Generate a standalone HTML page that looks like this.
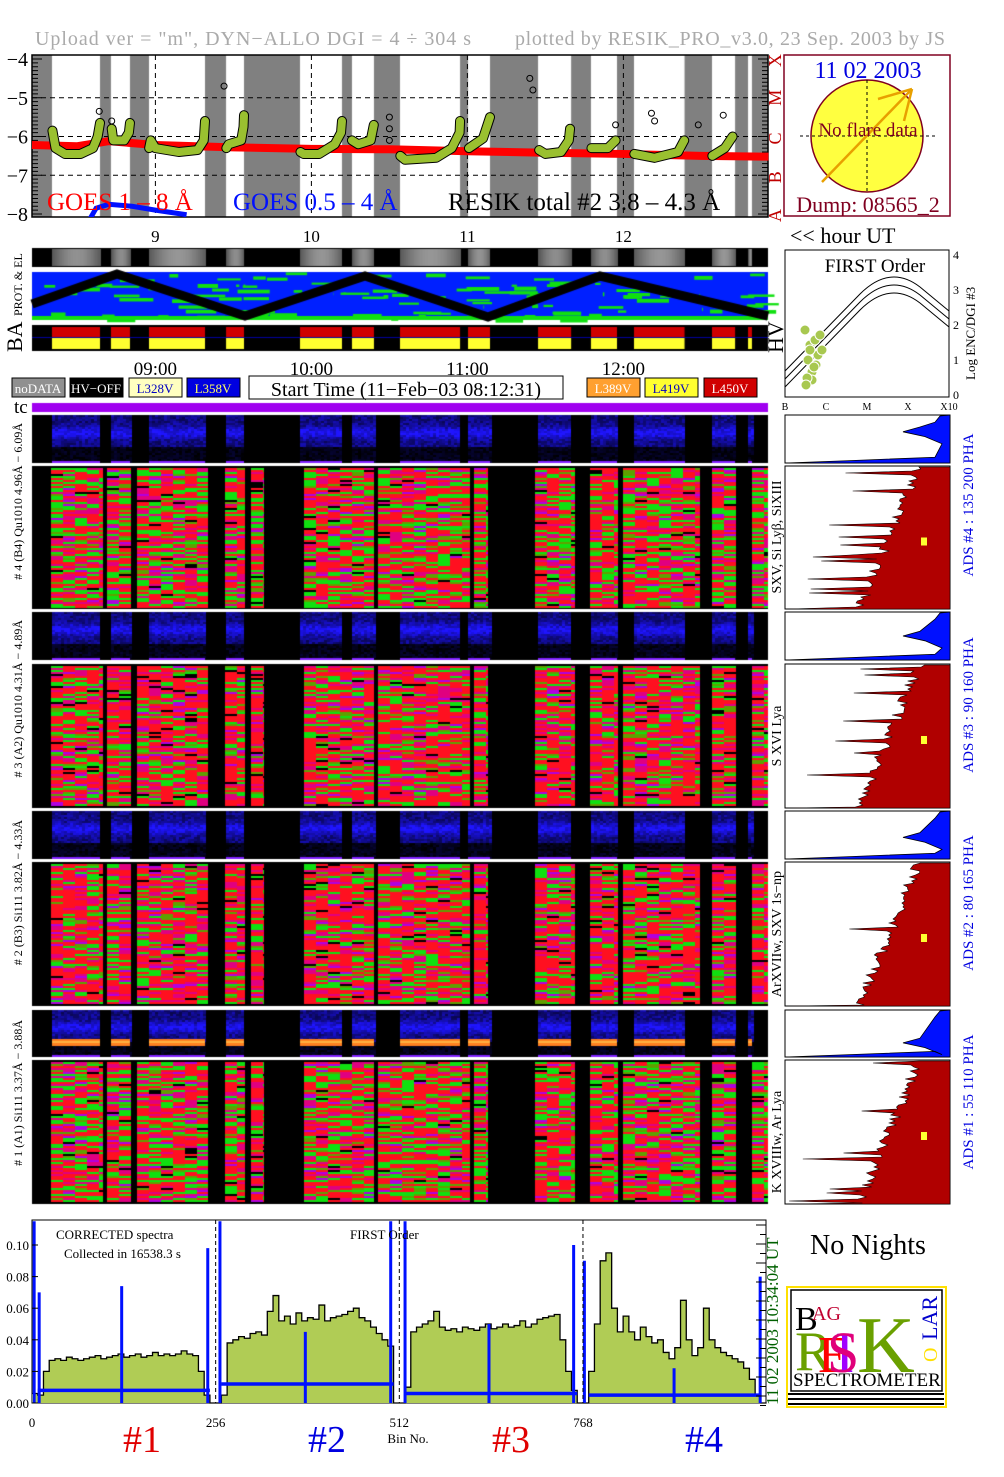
<!DOCTYPE html>
<html><head><meta charset="utf-8"><style>
html,body{margin:0;padding:0;background:#fff;}
#wrap{position:relative;width:1004px;height:1477px;overflow:hidden;}
canvas,svg{position:absolute;left:0;top:0;}
text{font-family:"Liberation Serif",serif;}
</style></head><body>
<div id="wrap">
<canvas id="cv" width="1004" height="1477"></canvas>
<svg id="sv" width="1004" height="1477" xmlns="http://www.w3.org/2000/svg">
<text x="35" y="45" font-size="20" fill="#aaa" textLength="436" lengthAdjust="spacing">Upload ver = "m", DYN−ALLO DGI =   4 ÷ 304 s</text>
<text x="515" y="45" font-size="20" fill="#aaa" textLength="430" lengthAdjust="spacing">plotted by RESIK_PRO_v3.0, 23 Sep. 2003 by JS</text>
<g id="goes"></g>
<g>
<rect x="784" y="55" width="166" height="161" fill="#fff" stroke="#800020" stroke-width="1.5"/>
<circle cx="867" cy="136" r="56" fill="#ffff40" stroke="#800020" stroke-width="1.5"/>
<line x1="867" y1="80" x2="867" y2="192" stroke="#000" stroke-dasharray="3,3"/>
<line x1="800" y1="136" x2="935" y2="136" stroke="#000" stroke-dasharray="3,3"/>
<line x1="822" y1="182" x2="912" y2="89" stroke="#e8a000" stroke-width="2.5"/>
<line x1="878" y1="99" x2="912" y2="89" stroke="#e8a000" stroke-width="2.5"/>
<line x1="904" y1="121" x2="912" y2="89" stroke="#e8a000" stroke-width="2.5"/>
<text x="868" y="78" font-size="24" fill="#0000e0" text-anchor="middle">11 02 2003</text>
<text x="868" y="136" font-size="19" fill="#800020" text-anchor="middle">No flare data</text>
<text x="868" y="212" font-size="22" fill="#800020" text-anchor="middle">Dump: 08565_2</text>
</g>
<text x="790" y="243" font-size="22" fill="#000">&lt;&lt; hour UT</text>
<text transform="translate(22,316) rotate(-90)" font-size="12">PROT. &amp; EL</text>
<text transform="translate(22,352) rotate(-90)" font-size="22">BA</text>
<text transform="translate(783,353) rotate(-90)" font-size="22">HV</text>
<g id="ctrl"></g>
<g id="first"></g>
<g id="labels"></g>
<g id="hist"></g>
<g id="spec"></g>
<text x="868" y="1254" font-size="28" text-anchor="middle">No Nights</text>
<g>
<rect x="787" y="1287" width="159" height="120" fill="#fff" stroke="#ffe000" stroke-width="2"/>
<rect x="791" y="1290" width="151" height="101" fill="#fff" stroke="#000" stroke-width="1.5"/>
<text x="795" y="1330" font-size="34" fill="#000">B</text>
<text x="812" y="1320" font-size="20" fill="#c00030">AG</text>
<text x="795" y="1370" font-size="56" fill="#6aa000">R</text>
<text x="818" y="1372" font-size="52" fill="#ff0000">E</text>
<text x="835" y="1372" font-size="58" fill="#a000ff">I</text>
<text x="827" y="1372" font-size="58" fill="#e0007a">S</text>
<text x="857" y="1372" font-size="80" fill="#6aa000">K</text>
<text transform="translate(937,1340) rotate(-90)" font-size="22" fill="#0000cc">LAR</text>
<text transform="translate(937,1362) rotate(-90)" font-size="20" fill="#ffe000">O</text>
<text x="793" y="1386" font-size="19" fill="#000">SPECTROMETER</text>
<rect x="788" y="1393" width="156" height="2" fill="#000"/><rect x="788" y="1398" width="156" height="2" fill="#000"/><rect x="788" y="1403" width="156" height="2" fill="#000"/>
</g>
<text x="142" y="1452" font-size="38" fill="#e00000" text-anchor="middle">#1</text>
<text x="327" y="1452" font-size="38" fill="#0000e0" text-anchor="middle">#2</text>
<text x="511" y="1452" font-size="38" fill="#e00000" text-anchor="middle">#3</text>
<text x="704" y="1452" font-size="38" fill="#0000e0" text-anchor="middle">#4</text>
<text x="408" y="1443" font-size="13" text-anchor="middle">Bin No.</text>
<text transform="translate(778,1405) rotate(-90)" font-size="17" fill="#006000">11 02 2003    10:34:04 UT</text>
</svg>
</div>
<script>
// ---------- data ----------
const hourTicks = [9,10,11,12];
const yTicksGoes = [-4,-5,-6,-7,-8];
const dataStart = [8.337,8.715,8.959,9.453,9.927,10.260,10.568,11.004,11.453,11.792,12.068,12.568,12.799];
const dataEnd   = [8.645,8.837,9.318,9.568,10.196,10.401,10.953,11.145,11.665,11.959,12.392,12.716,12.824];
const redT = [8.209,8.5,8.7,9.0,9.5,10.0,10.5,11.0,11.5,12.0,12.5,12.93];
const redV = [-6.22,-6.25,-6.12,-6.22,-6.28,-6.32,-6.33,-6.38,-6.42,-6.45,-6.5,-6.52];
const blueT = [8.57,8.62,8.70,8.85,9.0,9.2];
const blueV = [-8.2,-7.85,-7.75,-7.8,-7.9,-8.02];
const greenT = [
 [8.34,8.36,8.42,8.52,8.60,8.63,8.645],
 [8.72,8.73,8.80,8.83,8.837],
 [8.96,8.97,9.0,9.15,9.27,9.31,9.318],
 [9.455,9.47,9.55,9.565,9.568],
 [9.93,9.95,10.05,10.15,10.19,10.196],
 [10.26,10.3,10.38,10.40],
 [10.57,10.6,10.8,10.9,10.95,10.953],
 [11.01,11.1,11.145],
 [11.46,11.5,11.6,11.65,11.658],
 [11.795,11.9,11.95],
 [12.07,12.2,12.35,12.39],
 [12.57,12.65,12.70]];
const greenV = [
 [-5.85,-6.3,-6.45,-6.45,-6.3,-6.0,-5.65],
 [-5.8,-6.1,-6.1,-5.9,-5.65],
 [-6.3,-6.1,-6.3,-6.4,-6.35,-6.1,-5.6],
 [-6.3,-6.2,-6.1,-5.75,-5.45],
 [-6.4,-6.45,-6.45,-6.2,-5.9,-5.6],
 [-6.1,-6.2,-6.1,-5.7],
 [-6.5,-6.6,-6.55,-6.3,-5.9,-5.6],
 [-6.3,-6.05,-5.5],
 [-6.35,-6.45,-6.4,-6.1,-5.8],
 [-6.3,-6.3,-6.1],
 [-6.45,-6.55,-6.4,-6.1],
 [-6.5,-6.3,-6.0]];
const circT = [8.64,8.72,9.44,10.5,10.5,10.5,11.4,11.42,11.95,12.18,12.2,12.48,12.64];
const circV = [-5.35,-5.6,-4.7,-5.5,-5.8,-6.1,-4.5,-4.8,-5.7,-5.4,-5.6,-5.7,-5.45];
const specBins = [0,256,512,768];
const spec1 = [0.006,0.005,0.020,0.027,0.028,0.027,0.029,0.028,0.027,0.028,0.029,0.030,0.028,0.029,0.030,0.031,0.029,0.030,0.031,0.029,0.030,0.032,0.030,0.031,0.030,0.031,0.033,0.031,0.030,0.020,0.005,0.000];
const spec2 = [0.000,0.005,0.038,0.040,0.042,0.041,0.044,0.045,0.043,0.058,0.068,0.052,0.055,0.050,0.057,0.052,0.054,0.053,0.062,0.052,0.054,0.055,0.056,0.058,0.060,0.054,0.052,0.048,0.044,0.040,0.036,0.000];
const spec3 = [0.000,0.010,0.045,0.048,0.050,0.052,0.058,0.048,0.046,0.047,0.045,0.048,0.047,0.046,0.048,0.050,0.047,0.048,0.050,0.048,0.049,0.052,0.048,0.050,0.053,0.054,0.055,0.056,0.040,0.020,0.008,0.000];
const spec4 = [0.000,0.020,0.050,0.090,0.095,0.060,0.045,0.055,0.045,0.040,0.048,0.042,0.038,0.040,0.032,0.028,0.035,0.065,0.040,0.030,0.035,0.060,0.040,0.035,0.032,0.030,0.028,0.026,0.022,0.015,0.005,0.000];
const blueBase = [0.008,0.012,0.006,0.005];
const spikeBins = [3,10,125,245,262,381,500,520,637,755,770,895,1015];
const spikeVals = [0.115,0.07,0.074,0.098,0.115,0.045,0.115,0.115,0.050,0.10,0.09,0.022,0.080];
const specYTicks = [0.00,0.02,0.04,0.06,0.08,0.10];
const binTicks = [0,256,512,768];

const NS="http://www.w3.org/2000/svg";
function mk(tag,attrs,parent){const e=document.createElementNS(NS,tag);for(const k in attrs)e.setAttribute(k,attrs[k]);parent.appendChild(e);return e;}
const tx = h => 32 + (h-8.209)*156;
function goesY(v){return 59 + (-4 - v)*38.75;}

// ---------- canvas textures ----------
const cv=document.getElementById('cv'),c=cv.getContext('2d');
let seed=12345;function rnd(){seed=(seed*1103515245+12345)&0x7fffffff;return seed/0x7fffffff;}
c.fillStyle='#808080';c.fillRect(32,55,736,162);
c.fillStyle='#fff';
for(let i=0;i<dataStart.length;i++){c.fillRect(tx(dataStart[i]),55,tx(dataEnd[i])-tx(dataStart[i]),162);}
c.fillStyle='#000';c.fillRect(32,248,736,19);
for(let i=0;i<dataStart.length;i++){const x0=tx(dataStart[i]),x1=tx(dataEnd[i]);for(let x=x0;x<x1;x++){const g=Math.round(90+60*Math.sin((x-x0)/(x1-x0)*3.1));c.fillStyle=`rgb(${g},${g},${g})`;c.fillRect(x,249,1,17);}}
c.fillStyle='#0020ff';c.fillRect(32,272,736,48);
for(let i=0;i<110;i++){c.fillStyle='#10e010';const x=32+rnd()*736,y=272+rnd()*48;c.fillRect(x,y,rnd()*35,2+rnd()*2);}
c.fillStyle='#10e010';c.fillRect(32,316,736,4);
c.strokeStyle='#000';c.lineWidth=9;c.beginPath();
const zz=[[32,304],[117,274],[245,316],[365,276],[488,317],[600,276],[768,316]];
zz.forEach((p,i)=>i?c.lineTo(p[0],p[1]):c.moveTo(p[0],p[1]));c.stroke();
c.fillStyle='#000';c.fillRect(32,325,736,26);
for(let i=0;i<dataStart.length;i++){const x0=tx(dataStart[i]),w=tx(dataEnd[i])-x0;c.fillStyle='#d00000';c.fillRect(x0,327,w,11);c.fillStyle='#ffff30';c.fillRect(x0,338,w,11);}
c.fillStyle='#0000a0';c.fillRect(32,337,736,1);
c.fillStyle='#a000f0';c.fillRect(32,403,736,9);
const phaRows=[[415,463],[612,660],[811,859],[1010,1057]];
const specRows=[[466,609],[664,808],[862,1006],[1060,1204]];
const specCols=[[51,103],[107,131],[137,208],[225,245],[251,264],[304,374],[378,470],[474,488],[535,575],[590,618],[623,700],[712,736],[752,768]];
phaRows.forEach((r,ri)=>{c.fillStyle='#000';c.fillRect(32,r[0],736,r[1]-r[0]);
 for(let i=0;i<dataStart.length;i++){const x0=Math.round(tx(dataStart[i])),x1=Math.round(tx(dataEnd[i]));
  for(let y=r[0];y<r[1];y+=2){const f=(y-r[0])/(r[1]-r[0]);for(let x=x0;x<x1;x+=3){let b=rnd()*0.4;if(f<0.65)b+=0.3+0.45*Math.exp(-Math.pow((f-0.35)/0.12,2));else b*=0.5;c.fillStyle=`rgb(${Math.round(30*b)},${Math.round(20*b)},${Math.round(255*Math.min(1,b))})`;c.fillRect(x,y,3,2);}}
  if(ri===3){c.fillStyle='#ff8020';c.fillRect(x0,1039,x1-x0,7);c.fillStyle='#ffb040';c.fillRect(x0,1041,x1-x0,2);}
  c.fillStyle='#8020ff';c.fillRect(x0,r[1]-2,x1-x0,2);}});
specRows.forEach((r,ri)=>{c.fillStyle='#000';c.fillRect(32,r[0],736,r[1]-r[0]);
 specCols.forEach(col=>{for(let x=col[0];x<col[1];x+=12){const w=Math.min(12,col[1]-x);for(let y=r[0]+2;y<r[1]-2;y+=2){const q=rnd();let clr;const redBias=(ri===1||ri===2)?0.66:0.55;
  if(q<redBias*0.72)clr='#ff1020';else if(q<redBias)clr='#e00080';else if(q<redBias+0.05)clr='#b000e0';else if(q<0.9)clr='#10e010';else if(q<0.97)clr='#60a000';else clr='#000';
  c.fillStyle=clr;c.fillRect(x,y,w,2);}}});});
c.fillStyle='#fff';[463,609,660,808,859,1006,1057].forEach(y=>c.fillRect(32,y,736,3));

// ---------- GOES panel svg ----------
const goes=document.getElementById('goes');
mk('rect',{x:32,y:55,width:736,height:162,fill:'none',stroke:'#000','stroke-width':1.5},goes);
yTicksGoes.forEach(v=>{const y=goesY(v);
 const t=mk('text',{x:28,y:y+7,'font-size':20,'text-anchor':'end'},goes);t.textContent='−'+Math.abs(v);
 
 if(v>-8&&v<-4){const l=mk('line',{x1:32,x2:768,y1:y,y2:y,stroke:'#000','stroke-dasharray':'5,4'},goes);}
 for(let k=0;k<10;k++){const yy=y+k*3.875;if(yy<217){mk('line',{x1:32,x2:k?38:42,y1:yy,y2:yy,stroke:'#000'},goes);mk('line',{x1:768,x2:k?762:758,y1:yy,y2:yy,stroke:'#000'},goes);}}});
hourTicks.forEach(h=>{const x=tx(h);const l=mk('line',{x1:x,x2:x,y1:55,y2:217,stroke:'#000','stroke-dasharray':'5,4'},goes);
 const t=mk('text',{x:x,y:242,'font-size':17,'text-anchor':'middle'},goes);t.textContent=h;
 const t2=mk('text',{x:x,y:375,'font-size':19,'text-anchor':'middle'},goes);t2.textContent=(h<10?'0':'')+h+':00';});
const redPath=mk('polyline',{points:redT.map((t,i)=>tx(t)+','+goesY(redV[i])).join(' '),fill:'none',stroke:'#ff0000','stroke-width':8},goes);

const clipB=mk('clipPath',{id:'gclip'},goes);mk('rect',{x:32,y:55,width:736,height:162},clipB);
const bl=mk('polyline',{points:blueT.map((t,i)=>tx(t)+','+goesY(blueV[i])).join(' '),fill:'none',stroke:'#0010ff','stroke-width':5,'clip-path':'url(#gclip)'},goes);

greenT.forEach((ts,i)=>{const p=mk('polyline',{points:ts.map((t,j)=>tx(t)+','+goesY(greenV[i][j])).join(' '),fill:'none',stroke:'#000','stroke-width':10,'stroke-linecap':'round','stroke-linejoin':'round'},goes);
 
 const q=mk('polyline',{points:ts.map((t,j)=>tx(t)+','+goesY(greenV[i][j])).join(' '),fill:'none',stroke:'#9ac030','stroke-width':8,'stroke-linecap':'round','stroke-linejoin':'round'},goes);
 });
circT.forEach((t,i)=>{const ci=mk('circle',{cx:tx(t),cy:goesY(circV[i]),r:3,fill:'none',stroke:'#000'},goes);});
[['GOES 1 – 8 Å',47,'#ff0000'],['GOES 0.5 – 4 Å',233,'#0010ff'],['RESIK total #2  3.8 – 4.3 Å',448,'#000']].forEach(a=>{const t=mk('text',{x:a[1],y:210,'font-size':25,fill:a[2]},goes);t.textContent=a[0];});
['A','B','C','M','X'].forEach((L,i)=>{const t=mk('text',{transform:`translate(781,${222-i*38.75}) rotate(-90)`,'font-size':18,fill:'#c00000'},goes);t.textContent=L;});

// ---------- legend row ----------
const ctrl=document.getElementById('ctrl');
[[12,'#909090','noDATA','#fff'],[70,'#000','HV−OFF','#fff'],[129,'#ffffc0','L328V','#0000c0'],[187,'#0000e0','L358V','#ffff60'],[587,'#ffa030','L389V','#fff'],[645,'#ffff30','L419V','#0000c0'],[704,'#d00000','L450V','#fff']].forEach(b=>{
 const r=mk('rect',{x:b[0],y:378,width:53,height:19,fill:b[1],stroke:'#000'},ctrl);
 const t=mk('text',{x:b[0]+26,y:393,'font-size':13,fill:b[3],'text-anchor':'middle','font-family':'Liberation Mono, monospace'},ctrl);t.textContent=b[2];});
const st=mk('rect',{x:249,y:376,width:314,height:23,fill:'#fff',stroke:'#000'},ctrl);
const stt=mk('text',{x:406,y:396,'font-size':20,'text-anchor':'middle'},ctrl);stt.textContent='Start Time (11−Feb−03 08:12:31)';
const tc=mk('text',{x:14,y:413,'font-size':19},ctrl);tc.textContent='tc';

// ---------- FIRST order plot ----------
const fo=document.getElementById('first');
mk('rect',{x:785,y:250,width:164,height:147,fill:'#fff',stroke:'#000'},fo);
const ft=mk('text',{x:875,y:272,'font-size':19,'text-anchor':'middle'},fo);ft.textContent='FIRST Order';
[0,1,2].forEach(k=>{const p=mk('path',{d:`M785,${387-k*8} L860,${310-k*8} Q890,${280-k*8} 920,${303-k*8} L949,${327-k*8}`,fill:'none',stroke:'#000'},fo);});
const foX=[805,810,808,812,815,818,812,807,822,816,810,806,820,814];const foY=[330,345,360,372,340,355,380,378,350,365,350,385,335,367];
foX.forEach((x,i)=>{const ci=mk('circle',{cx:x,cy:foY[i],r:5,fill:'#a8c850',stroke:'#fff'},fo);});
['0','1','2','3','4'].forEach((v,i)=>{const t=mk('text',{x:953,y:399-i*35,'font-size':12},fo);t.textContent=v;});
['B','C','M','X','X10'].forEach((v,i)=>{const t=mk('text',{x:785+i*41,y:410,'font-size':10,'text-anchor':'middle'},fo);t.textContent=v;});
const fl=mk('text',{transform:'translate(975,380) rotate(-90)','font-size':13},fo);fl.textContent='Log ENC/DGI #3';

// ---------- left/right labels ----------
const lb=document.getElementById('labels');
[['# 4 (B4) Qu1010 4.96Å − 6.09Å',423],['# 3 (A2) Qu1010 4.31Å − 4.89Å',620],['# 2 (B3) Si111 3.82Å − 4.33Å',820],['# 1 (A1) Si111 3.37Å − 3.88Å',1020]].forEach(a=>{
 const t=mk('text',{transform:`translate(22,${a[1]}) rotate(-90)`,'font-size':12,'text-anchor':'end'},lb);t.textContent=a[0];});
[['SXV, Si Lyβ, SiXIII',537],['S XVI Lya',736],['ArXVIIw, SXV 1s−np',934],['K XVIIIw, Ar Lya',1142]].forEach(a=>{
 const t=mk('text',{transform:`translate(781,${a[1]}) rotate(-90)`,'font-size':14,'text-anchor':'middle'},lb);t.textContent=a[0];});
[['ADS #4 :   135 200     PHA',505],['ADS #3 :    90 160     PHA',705],['ADS #2 :    80 165     PHA',903],['ADS #1 :    55 110     PHA',1102]].forEach(a=>{
 const t=mk('text',{transform:`translate(973,${a[1]}) rotate(-90)`,'font-size':15,fill:'#0000e0','text-anchor':'middle'},lb);t.textContent=a[0];});

// ---------- histograms ----------
const hg=document.getElementById('hist');
phaRows.forEach((r,ri)=>{const y0=r[0],h=r[1]-r[0];
 mk('rect',{x:785,y:y0,width:165,height:h,fill:'#fff',stroke:'#000'},hg);
 const pk=[0.35,0.5,0.55,0.7][ri];
 const p=mk('path',{d:`M950,${y0} L940,${y0+1} L935,${y0+h*0.15} L920,${y0+h*(pk-0.1)} L903,${y0+h*pk} L925,${y0+h*(pk+0.1)} L942,${y0+h*(pk+0.25)} L935,${y0+h*0.88} L850,${y0+h*0.95} L786,${y0+h} L950,${y0+h} Z`,fill:'#0010ff',stroke:'#000','stroke-width':0.8},hg);
 });
specRows.forEach((r,ri)=>{const y0=r[0],h=r[1]-r[0];
 mk('rect',{x:785,y:y0,width:165,height:h,fill:'#fff',stroke:'#000'},hg);
 let d=`M950,${y0+1}`;
 for(let y=y0+1;y<r[1];y+=2){const f=(y-y0)/h;let x=925-60*f-rnd()*12;if(rnd()<0.07)x-=30+rnd()*40;d+=` L${x.toFixed(1)},${y}`;}
 d+=` L790,${r[1]} L950,${r[1]} Z`;
 const p=mk('path',{d:d,fill:'#b00000',stroke:'#000','stroke-width':0.6},hg);
 mk('rect',{x:921,y:y0+h*0.5,width:6,height:8,fill:'#ffff30'},hg);});

// ---------- bottom corrected spectra ----------
const sp=document.getElementById('spec');
const bx=b=>32+b*0.7174, by=v=>1403-v*1580;
mk('rect',{x:32,y:1220,width:734,height:183,fill:'#fff',stroke:'#000'},sp);
const segs=[spec1,spec2,spec3,spec4];
segs.forEach((arr,si)=>{let pts=[];arr.forEach((v,i)=>{const b=specBins[si]+i*8;pts.push(bx(b)+','+by(v));pts.push(bx(b+8)+','+by(v));});
 const a=mk('polygon',{points:bx(specBins[si])+','+by(0)+' '+pts.join(' ')+' '+bx(specBins[si]+256)+','+by(0),fill:'#b0cc55'},sp);
 const l=mk('polyline',{points:pts.join(' '),fill:'none',stroke:'#000','stroke-width':1.3},sp);
 const bb=mk('line',{x1:bx(specBins[si]+8),x2:bx(specBins[si]+248),y1:by(blueBase[si]),y2:by(blueBase[si]),stroke:'#0010ff','stroke-width':3.5},sp);});
spikeBins.forEach((b,i)=>{const l=mk('line',{x1:bx(b),x2:bx(b),y1:by(0),y2:Math.max(1220,by(spikeVals[i])),stroke:'#0010ff','stroke-width':3},sp);});
binTicks.forEach(b=>{const x=bx(b);if(b){const l=mk('line',{x1:x,x2:x,y1:1220,y2:1403,stroke:'#000','stroke-dasharray':'4,3'},sp);}
 const t=mk('text',{x:x,y:1427,'font-size':13,'text-anchor':'middle'},sp);t.textContent=b;});
specYTicks.forEach(v=>{const y=by(v);mk('line',{x1:32,x2:38,y1:y,y2:y,stroke:'#000'},sp);
 const t=mk('text',{x:29,y:y+5,'font-size':13,'text-anchor':'end'},sp);t.textContent=v.toFixed(2);});
for(let k=0;k<20;k++){const y=1225+k*9.5;mk('line',{x1:766,x2:k%2?760:756,y1:y,y2:y,stroke:'#000'},sp);}
const c1=mk('text',{x:56,y:1239,'font-size':13},sp);c1.textContent='CORRECTED spectra';
const c2=mk('text',{x:64,y:1258,'font-size':13},sp);c2.textContent='Collected in 16538.3 s';
const c3=mk('text',{x:350,y:1239,'font-size':13},sp);c3.textContent='FIRST Order';
</script>
</body></html>
